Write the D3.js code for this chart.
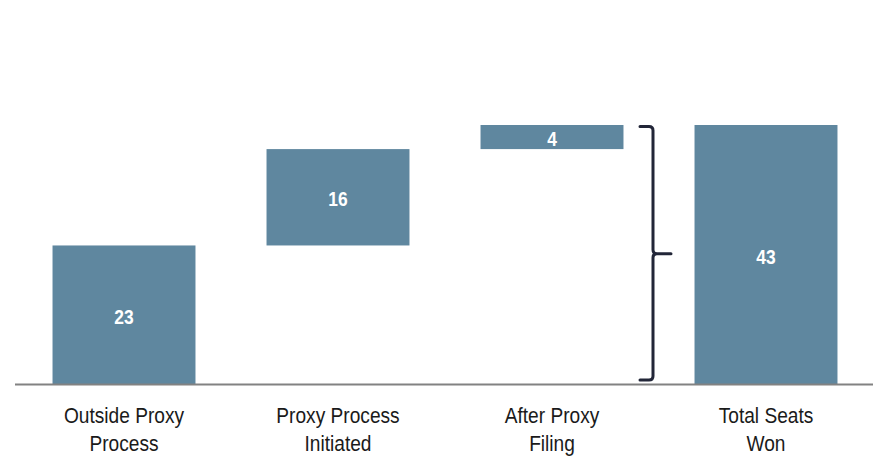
<!DOCTYPE html>
<html><head><meta charset="utf-8">
<script src="https://cdn.jsdelivr.net/npm/d3@7/dist/d3.min.js"></script>
<style>body{margin:0;background:#fff;} svg{display:block;}</style>
</head><body>
<svg id="chart" width="882" height="459"></svg>
<script>
const categories = [["Outside Proxy","Process"],["Proxy Process","Initiated"],["After Proxy","Filing"],["Total Seats","Won"]];
const values = [23, 16, 4, 43];
const isTotal = [false, false, false, true];

const svg = d3.select("#chart");
const baseY = 384, topY = 125;
const x = d3.scaleBand().domain(d3.range(values.length)).range([17, 873]).paddingInner(0.332).paddingOuter(0.166);
const y = d3.scaleLinear().domain([0, 43]).range([baseY, topY]);

let cum = 0;
const bars = values.map((v, i) => {
  let start, end;
  if (isTotal[i]) { start = 0; end = v; }
  else { start = cum; end = cum + v; cum = end; }
  return {i, v, start, end};
});

const color = "#5f879f";
const font = "'Liberation Sans Narrow','Arial Narrow','Liberation Sans',Arial,sans-serif";
const sx = 0.87;

svg.selectAll("rect.bar").data(bars).enter().append("rect")
  .attr("class","bar")
  .attr("x", d => x(d.i))
  .attr("width", x.bandwidth())
  .attr("y", d => y(d.end))
  .attr("height", d => y(d.start) - y(d.end))
  .attr("fill", color);

svg.selectAll("text.val").data(bars).enter().append("text")
  .attr("class","val")
  .attr("transform", d => `translate(${x(d.i) + x.bandwidth()/2},${(y(d.start) + y(d.end))/2}) scale(${sx},1)`)
  .attr("dy", "0.46em")
  .attr("text-anchor","middle")
  .attr("fill","#fff")
  .attr("font-family", font)
  .attr("font-weight","bold")
  .attr("font-size", 20)
  .text(d => d.v);

svg.append("line").attr("x1",15).attr("x2",873).attr("y1",baseY+0.5).attr("y2",baseY+0.5)
  .attr("stroke","#828282").attr("stroke-width",2);

const lab = svg.selectAll("g.cat").data(categories).enter().append("g")
  .attr("class","cat")
  .attr("transform", (d, i) => `translate(${x(i) + x.bandwidth()/2},0) scale(${sx},1)`);
lab.each(function(d){
  const g = d3.select(this);
  d.forEach((line, j) => {
    g.append("text").attr("x", 0).attr("y", 423 + j*28)
      .attr("text-anchor","middle")
      .attr("font-family", font)
      .attr("font-size", 22)
      .attr("fill","#1a1a1a")
      .text(line);
  });
});

const bx = 653, yTop = y(43) + 1.5, yBot = y(0) - 4, yMid = (yTop + yBot)/2 + 0.5;
const r = 4;
const path = d3.path();
path.moveTo(bx - 13, yTop);
path.lineTo(bx - r, yTop);
path.quadraticCurveTo(bx, yTop, bx, yTop + r);
path.lineTo(bx, yMid - r);
path.quadraticCurveTo(bx, yMid, bx + r, yMid);
path.lineTo(bx + 18, yMid);
path.moveTo(bx + r, yMid);
path.quadraticCurveTo(bx, yMid, bx, yMid + r);
path.lineTo(bx, yBot - r);
path.quadraticCurveTo(bx, yBot, bx - r, yBot);
path.lineTo(bx - 13, yBot);
svg.append("path").attr("d", path.toString()).attr("fill","none")
  .attr("stroke","#222638").attr("stroke-width",3).attr("stroke-linecap","round");
</script>
</body></html>
